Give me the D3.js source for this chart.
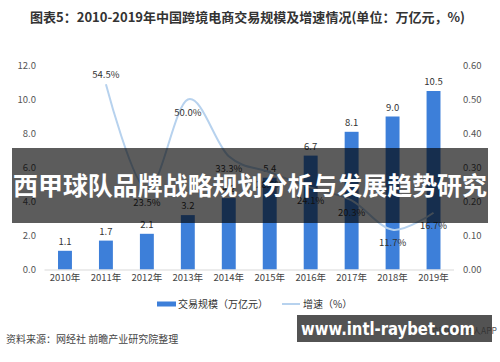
<!DOCTYPE html>
<html><head><meta charset="utf-8">
<script src="https://cdn.jsdelivr.net/npm/d3@7"></script>
<style>
body{margin:0;background:#fff;}
svg{display:block;font-family:"Noto Sans CJK SC","Noto Sans",sans-serif;}
</style></head>
<body><svg id="c" width="500" height="362"></svg>
<script>
const years = ["2010年","2011年","2012年","2013年","2014年","2015年","2016年","2017年","2018年","2019年"];
const scale = [1.1,1.7,2.1,3.2,4.2,5.4,6.7,8.1,9.0,10.5];
const growth = [null,0.545,0.235,0.500,0.333,0.286,0.241,0.203,0.117,0.167];
const growthLabels = [null,"54.5%","23.5%","50.0%","33.3%","28.6%","24.1%","20.3%","11.7%","16.7%"];
const leftTicks = [0,2,4,6,8,10,12];
const rightTicks = [0,0.1,0.2,0.3,0.4,0.5,0.6];

const svg = d3.select("#c");
const x = d3.scaleBand().domain(years).range([44.5,454]).paddingInner(0.66).paddingOuter(0.33);
const yL = d3.scaleLinear().domain([0,12]).range([269.5,65.5]);
const yR = d3.scaleLinear().domain([0,0.6]).range([269.5,65.5]);
const cx = d => x(d)+x.bandwidth()/2;

// title
svg.append("text").attr("x",30).attr("y",22).attr("font-size",13).attr("font-weight","bold")
  .attr("fill","#333").attr("textLength",435).attr("lengthAdjust","spacingAndGlyphs")
  .text("图表5：2010-2019年中国跨境电商交易规模及增速情况(单位：万亿元，%)");

// left axis
const gl = svg.append("g").attr("transform","translate(36,0)")
  .call(d3.axisLeft(yL).tickValues(leftTicks).tickFormat(d3.format(".1f")).tickSize(0).tickPadding(0));
gl.select(".domain").remove();
gl.selectAll("text").attr("font-size",9.5).attr("fill","#555").attr("font-family","Noto Sans CJK SC");
// right axis
const gr = svg.append("g").attr("transform","translate(463,0)")
  .call(d3.axisRight(yR).tickValues(rightTicks).tickFormat(d3.format(".2f")).tickSize(0).tickPadding(0));
gr.select(".domain").remove();
gr.selectAll("text").attr("font-size",9.5).attr("fill","#555").attr("font-family","Noto Sans CJK SC");

// bars
svg.append("g").selectAll("rect").data(years).join("rect")
  .attr("x",d=>x(d)).attr("width",x.bandwidth())
  .attr("y",(d,i)=>yL(scale[i])).attr("height",(d,i)=>yL(0)-yL(scale[i]))
  .attr("fill","#3d7fd9");
// baseline
svg.append("line").attr("x1",44.5).attr("x2",454).attr("y1",yL(0)+0.5).attr("y2",yL(0)+0.5)
  .attr("stroke","#d9d9d9").attr("stroke-width",1);

// x axis labels
const gx = svg.append("g").attr("transform",`translate(0,${yL(0)+5})`)
  .call(d3.axisBottom(x).tickSize(0).tickPadding(0));
gx.select(".domain").remove();
gx.selectAll("text").attr("font-size",9.5).attr("fill","#444").attr("font-family","Noto Sans CJK SC");

// bar labels
svg.append("g").selectAll("text").data(years).join("text")
  .attr("x",d=>cx(d)).attr("y",(d,i)=>yL(scale[i])-6).attr("text-anchor","middle")
  .attr("font-size",9.5).attr("fill","#333").text((d,i)=>scale[i].toFixed(1));

// growth line
const pts = years.map((d,i)=>[cx(d),growth[i]]).filter(p=>p[1]!=null);
const line = d3.line().x(p=>p[0]).y(p=>yR(p[1])).curve(d3.curveCardinal.tension(0));
svg.append("path").datum(pts).attr("d",line).attr("fill","none")
  .attr("stroke","#b7d2ee").attr("stroke-width",2);
// growth labels
svg.append("g").selectAll("text").data(years).join("text")
  .filter((d,i)=>growth[i]!=null)
  .attr("x",d=>cx(d)).attr("y",(d)=>{const i=years.indexOf(d);return i===1?yR(growth[i])-6:yR(growth[i])+16;})
  .attr("text-anchor","middle").attr("font-size",9.5).attr("fill","#333")
  .text(d=>growthLabels[years.indexOf(d)]);

// legend
svg.append("rect").attr("x",157).attr("y",301.5).attr("width",19).attr("height",5).attr("fill","#3d7fd9");
svg.append("text").attr("x",178).attr("y",308).attr("font-size",10).attr("fill","#333").text("交易规模（万亿元）");
svg.append("line").attr("x1",282).attr("x2",300).attr("y1",304).attr("y2",304).attr("stroke","#b7d2ee").attr("stroke-width",2);
svg.append("text").attr("x",303).attr("y",308).attr("font-size",10).attr("fill","#333").text("增速（%）");

// source
svg.append("text").attr("x",6).attr("y",343).attr("font-size",10).attr("fill","#444").text("资料来源：网经社 前瞻产业研究院整理");
svg.append("text").attr("x",497).attr("y",334).attr("text-anchor","end").attr("font-size",8.5).attr("fill","#555").text("前瞻经济学人APP");

// overlay banner
svg.append("rect").attr("x",12).attr("y",148).attr("width",476).attr("height",75).attr("fill","rgba(0,0,0,0.64)");
svg.append("text").attr("x",250).attr("y",195).attr("text-anchor","middle").attr("font-size",25)
  .attr("font-weight","bold").attr("fill","#fff").attr("textLength",474).attr("lengthAdjust","spacingAndGlyphs")
  .text("西甲球队品牌战略规划分析与发展趋势研究");
// bottom watermark
svg.append("rect").attr("x",297).attr("y",315).attr("width",195).attr("height",27).attr("fill","rgba(45,45,45,0.82)");
svg.append("text").attr("x",301).attr("y",335).attr("font-size",17).attr("font-weight","bold")
  .attr("fill","#fff").attr("font-family","DejaVu Sans, sans-serif").attr("textLength",174).attr("lengthAdjust","spacingAndGlyphs")
  .text("www.intl-raybet.com");
</script></body></html>
